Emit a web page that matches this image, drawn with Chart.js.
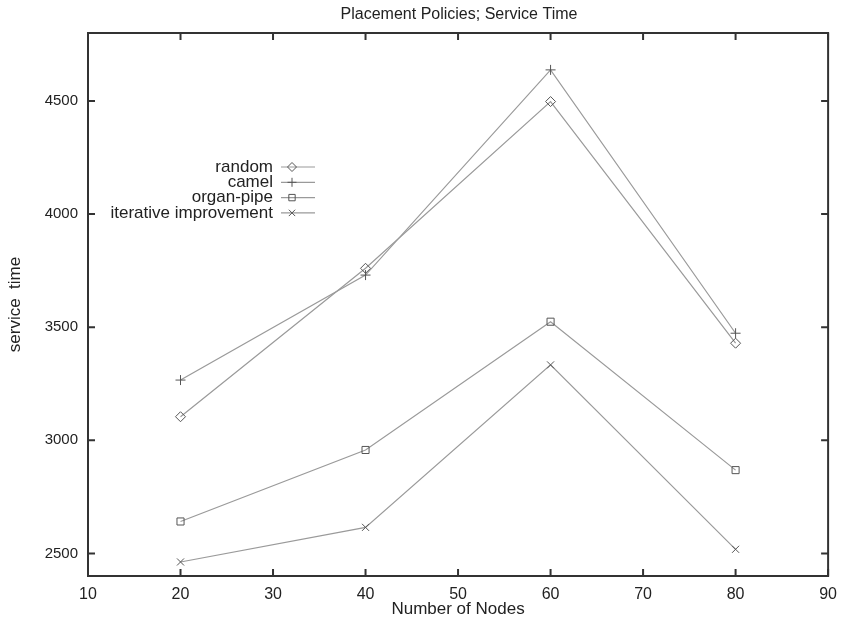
<!DOCTYPE html>
<html><head><meta charset="utf-8">
<script src="https://cdn.jsdelivr.net/npm/chart.js@4.4.1/dist/chart.umd.min.js"></script>
<style>html,body{margin:0;padding:0;background:#fff;}#wrap{width:846px;height:621px;position:relative;}</style>
</head><body><div id="wrap"><canvas id="c" width="846" height="621"></canvas></div>
<script>
const nodes = [20, 40, 60, 80];
const randomVals = [3104, 3760, 4497, 3429];
const camelVals = [3266, 3730, 4637, 3473];
const organPipeVals = [2641, 2957, 3524, 2868];
const iterativeVals = [2462, 2615, 3333, 2518];
const seriesNames = ['random', 'camel', 'organ-pipe', 'iterative improvement'];
const xTicks = [10, 20, 30, 40, 50, 60, 70, 80, 90];
const yTicks = [2500, 3000, 3500, 4000, 4500];

const FONT = "'Liberation Sans', Arial, sans-serif";
const styles = ['rectRot', 'cross', 'rect', 'crossRot'];
const vals = [randomVals, camelVals, organPipeVals, iterativeVals];
const datasets = vals.map((v, i) => ({
  label: seriesNames[i],
  data: nodes.map((n, j) => ({x: n, y: v[j]})),
  showLine: true,
  borderColor: '#9a9a9a',
  borderWidth: 1.2,
  pointStyle: styles[i],
  pointRadius: 5,
  pointBorderColor: '#555',
  pointBackgroundColor: 'rgba(0,0,0,0)',
  pointBorderWidth: 1,
  fill: false
}));

const frame = {
  id: 'frame',
  afterDraw(chart) {
    const ctx = chart.ctx, a = chart.chartArea;
    const xs = chart.scales.x, ys = chart.scales.y;
    ctx.save();
    ctx.strokeStyle = '#333';
    ctx.lineWidth = 2;
    ctx.strokeRect(a.left, a.top, a.right - a.left, a.bottom - a.top);
    const L = 7;
    xTicks.forEach(t => {
      const px = xs.getPixelForValue(t);
      ctx.beginPath();
      ctx.moveTo(px, a.bottom); ctx.lineTo(px, a.bottom - L);
      ctx.moveTo(px, a.top); ctx.lineTo(px, a.top + L);
      ctx.stroke();
    });
    yTicks.forEach(t => {
      const py = ys.getPixelForValue(t);
      ctx.beginPath();
      ctx.moveTo(a.left, py); ctx.lineTo(a.left + L, py);
      ctx.moveTo(a.right, py); ctx.lineTo(a.right - L, py);
      ctx.stroke();
    });
    // title
    ctx.fillStyle = '#222';
    ctx.font = '16px ' + FONT;
    ctx.textAlign = 'center';
    ctx.textBaseline = 'middle';
    ctx.fillText('Placement Policies; Service Time', 459, 15);
    // legend
    ctx.textAlign = 'right';
    chart.data.datasets.forEach((ds, i) => {
      const y = 167 + i * 15.3;
      ctx.fillStyle = '#222';
      ctx.font = '17px ' + FONT;
      ctx.fillText(ds.label, 273, y);
      ctx.strokeStyle = '#9a9a9a';
      ctx.lineWidth = 1.2;
      ctx.beginPath(); ctx.moveTo(281, y); ctx.lineTo(315, y); ctx.stroke();
      ctx.strokeStyle = '#555';
      ctx.fillStyle = 'rgba(0,0,0,0)';
      ctx.lineWidth = 1;
      Chart.helpers.drawPoint(ctx, {pointStyle: ds.pointStyle, radius: 4.5, rotation: 0, borderWidth: 1}, 292, y);
    });
    ctx.restore();
  }
};

new Chart(document.getElementById('c'), {
  type: 'scatter',
  data: {datasets},
  options: {
    responsive: false,
    animation: false,
    devicePixelRatio: 1,
    layout: {padding: {left: 0, right: 15, top: 33, bottom: 0}},
    plugins: {legend: {display: false}, title: {display: false}, tooltip: {enabled: false}},
    scales: {
      x: {
        type: 'linear', min: 10, max: 90,
        afterFit: s => { s.height = 45; },
        afterBuildTicks: s => { s.ticks = xTicks.map(v => ({value: v})); },
        grid: {display: false, drawTicks: false},
        border: {display: false},
        ticks: {padding: 9, color: '#222', font: {family: FONT, size: 16}, maxRotation: 0, callback: v => String(v)},
        title: {display: true, text: 'Number of Nodes', color: '#222', font: {family: FONT, size: 17}, padding: {top: 0, bottom: 1}}
      },
      y: {
        type: 'linear', min: 2400, max: 4800,
        afterFit: s => { s.width = 88; },
        afterBuildTicks: s => { s.ticks = yTicks.map(v => ({value: v})); },
        grid: {display: false, drawTicks: false},
        border: {display: false},
        ticks: {padding: 10, color: '#222', font: {family: FONT, size: 15}, callback: v => String(v)},
        title: {display: true, text: 'service  time', color: '#222', font: {family: FONT, size: 17}, padding: {top: 5, bottom: 0}}
      }
    }
  },
  plugins: [frame]
});
</script></body></html>
